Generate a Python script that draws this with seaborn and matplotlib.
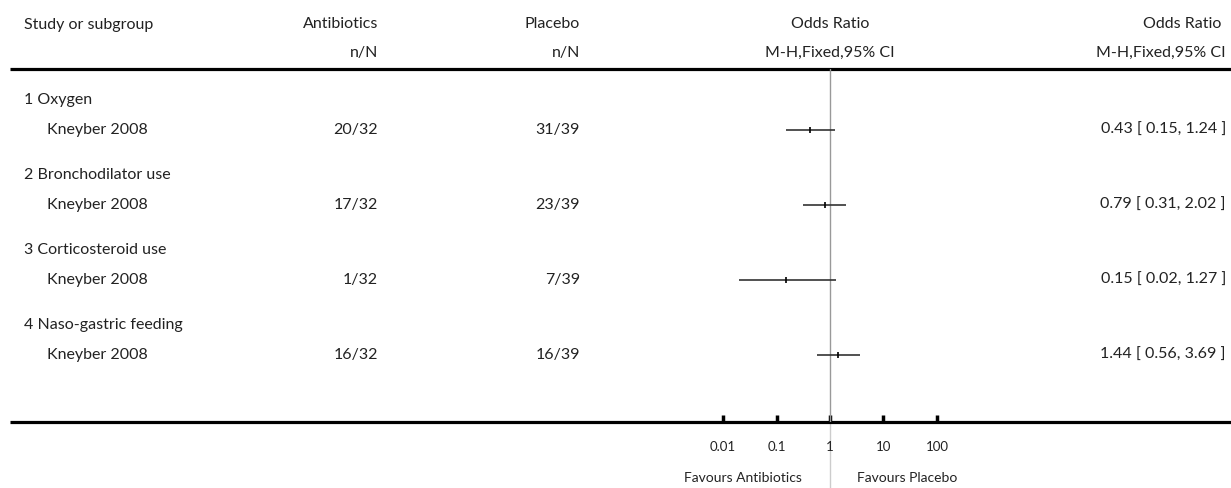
import matplotlib
matplotlib.use("Agg")
import matplotlib.pyplot as plt
import seaborn as sns

# forest plot: antibiotics vs placebo, one study per subgroup
subgroups = ["1 Oxygen", "2 Bronchodilator use", "3 Corticosteroid use", "4 Naso-gastric feeding"]
studies = ["Kneyber 2008", "Kneyber 2008", "Kneyber 2008", "Kneyber 2008"]
abx_nN = ["20/32", "17/32", "1/32", "16/32"]
plc_nN = ["31/39", "23/39", "7/39", "16/39"]
odds_ratio = [0.43, 0.79, 0.15, 1.44]
ci_low = [0.15, 0.31, 0.02, 0.56]
ci_high = [1.24, 2.02, 1.27, 3.69]
tick_values = [0.01, 0.1, 1, 10, 100]
tick_labels = ["0.01", "0.1", "1", "10", "100"]

sns.set_theme(style="white")
plt.rcParams["font.family"] = ["Lato", "DejaVu Sans"]

W, H = 1231, 488
TXT = "#222222"
FS = 11.5

fig = plt.figure(figsize=(W / 100, H / 100), dpi=100)

# background axes in pixel units for the table part
bg = fig.add_axes([0, 0, 1, 1])
bg.set_xlim(0, W)
bg.set_ylim(H, 0)
bg.axis("off")

# forest axes, log scale; 0.01 -> 723px, 100 -> 937px
top_px, bot_px = 69, 422
left_px, right_px = 690, 970
ax = fig.add_axes([left_px / W, 1 - bot_px / H, (right_px - left_px) / W, (bot_px - top_px) / H])
ax.set_xscale("log")
ax.set_xlim(10 ** -2.617, 10 ** 2.617)
ax.set_ylim(bot_px, top_px)
ax.patch.set_alpha(0)
for s in ax.spines.values():
    s.set_visible(False)

# row positions
group_y = [100 + 75 * i for i in range(len(subgroups))]
study_y = [y + 30 for y in group_y]

# headers
bg.text(24, 25, "Study or subgroup", ha="left", va="center", fontsize=FS, color=TXT)
bg.text(378, 24, "Antibiotics", ha="right", va="center", fontsize=FS, color=TXT)
bg.text(378, 53, "n/N", ha="right", va="center", fontsize=FS, color=TXT)
bg.text(580, 24, "Placebo", ha="right", va="center", fontsize=FS, color=TXT)
bg.text(580, 53, "n/N", ha="right", va="center", fontsize=FS, color=TXT)
bg.text(830, 24, "Odds Ratio", ha="center", va="center", fontsize=FS, color=TXT)
bg.text(830, 53, "M-H,Fixed,95% CI", ha="center", va="center", fontsize=FS, color=TXT)
bg.text(1221, 24, "Odds Ratio", ha="right", va="center", fontsize=FS, color=TXT)
bg.text(1226, 53, "M-H,Fixed,95% CI", ha="right", va="center", fontsize=FS, color=TXT)

# thick rules
bg.plot([10, W], [top_px, top_px], color="black", lw=2.3, solid_capstyle="butt")
bg.plot([10, W], [bot_px, bot_px], color="black", lw=2.3, solid_capstyle="butt")

# table rows
for i in range(len(subgroups)):
    bg.text(24, group_y[i], subgroups[i], ha="left", va="center", fontsize=FS, color=TXT)
    bg.text(47, study_y[i], studies[i], ha="left", va="center", fontsize=FS, color=TXT)
    bg.text(378, study_y[i], abx_nN[i], ha="right", va="center", fontsize=FS, color=TXT)
    bg.text(580, study_y[i], plc_nN[i], ha="right", va="center", fontsize=FS, color=TXT)
    ci_txt = f"{odds_ratio[i]:.2f} [ {ci_low[i]:.2f}, {ci_high[i]:.2f} ]"
    bg.text(1226, study_y[i], ci_txt, ha="right", va="center", fontsize=FS, color=TXT)

# line of no effect
ax.axvline(1, color="#999999", lw=1, zorder=1)
bg.plot([830, 830], [bot_px, H], color="#cccccc", lw=1, zorder=0)

# confidence intervals and point estimates
ax.hlines(study_y, ci_low, ci_high, color="#333333", lw=1.2, zorder=2)
sns.scatterplot(x=odds_ratio, y=study_y, marker="|", s=16, color="black",
                linewidth=1.2, ax=ax, zorder=3, legend=False)

ax.set_xticks(tick_values)
ax.set_xticks([], minor=True)
ax.set_xticklabels(tick_labels)
ax.set_yticks([])
ax.tick_params(axis="x", direction="in", length=5, width=2.5, color="black",
               bottom=True, pad=14, labelsize=9.5, labelcolor=TXT)

bg.text(802, 478, "Favours Antibiotics", ha="right", va="center", fontsize=10, color=TXT)
bg.text(857, 478, "Favours Placebo", ha="left", va="center", fontsize=10, color=TXT)

fig.savefig("out.png", dpi=100)
